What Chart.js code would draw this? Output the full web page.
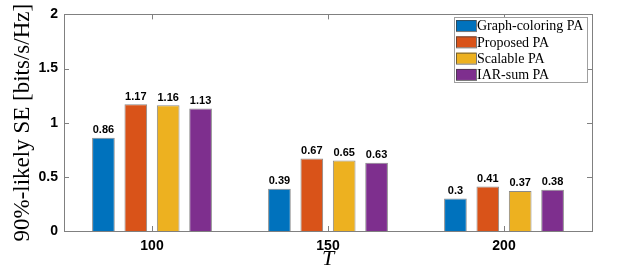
<!DOCTYPE html>
<html>
<head>
<meta charset="utf-8">
<script src="https://cdn.jsdelivr.net/npm/chart.js@4.4.1/dist/chart.umd.min.js"></script>
<style>
  html, body { margin: 0; padding: 0; background: #fff; }
  #wrap { width: 623px; height: 272px; position: relative; }
</style>
</head>
<body>
<div id="wrap"><canvas id="chart"></canvas></div>
<script>
// categories and series
const categories = ['100', '150', '200'];
const seriesNames = ['Graph-coloring PA', 'Proposed PA', 'Scalable PA', 'IAR-sum PA'];
const graphColoring = [0.86, 0.39, 0.30];
const proposed = [1.17, 0.67, 0.41];
const scalable = [1.16, 0.65, 0.37];
const iarSum = [1.13, 0.63, 0.38];
const yTicks = [0, 0.5, 1, 1.5, 2];

const colors = ['#0072BD', '#D95319', '#EDB120', '#7E2F8E'];
const seriesValues = [graphColoring, proposed, scalable, iarSum];

const tickFont = { family: 'Liberation Sans', weight: 'bold', size: 14 };
const serif = 'Liberation Serif';

// box around the axes with inward ticks (MATLAB style)
const framePlugin = {
    id: 'frame',
    afterDatasetsDraw(chart) {
        const ctx = chart.ctx;
        const a = chart.chartArea;
        const xs = chart.scales.x, ys = chart.scales.y;
        ctx.save();
        ctx.strokeStyle = '#808080';
        ctx.lineWidth = 1;
        ctx.strokeRect(Math.round(a.left) + 0.5, Math.round(a.top) + 0.5,
            Math.round(a.right - a.left), Math.round(a.bottom - a.top));
        ctx.beginPath();
        yTicks.forEach(v => {
            const y = Math.round(ys.getPixelForValue(v)) + 0.5;
            ctx.moveTo(a.left, y); ctx.lineTo(a.left + 5, y);
            ctx.moveTo(a.right, y); ctx.lineTo(a.right - 5, y);
        });
        categories.forEach((c, i) => {
            const x = Math.round(xs.getPixelForValue(i)) + 0.5;
            ctx.moveTo(x, a.bottom); ctx.lineTo(x, a.bottom - 5);
            ctx.moveTo(x, a.top); ctx.lineTo(x, a.top + 5);
        });
        ctx.stroke();
        ctx.restore();
    }
};

// value labels above each bar
const valueLabels = {
    id: 'valueLabels',
    afterDatasetsDraw(chart) {
        const ctx = chart.ctx;
        ctx.save();
        ctx.font = 'bold 11px "Liberation Sans"';
        ctx.fillStyle = '#000';
        ctx.textAlign = 'center';
        ctx.textBaseline = 'bottom';
        chart.data.datasets.forEach((ds, i) => {
            chart.getDatasetMeta(i).data.forEach((bar, j) => {
                ctx.fillText(String(ds.data[j]), bar.x, bar.y - 2);
            });
        });
        ctx.restore();
    }
};

// legend box in the upper right corner of the axes
const boxLegend = {
    id: 'boxLegend',
    afterDraw(chart) {
        const ctx = chart.ctx;
        const a = chart.chartArea;
        const w = 133, rowH = 16.3;
        const x0 = a.right - 5 - w, y0 = a.top + 3;
        const h = rowH * chart.data.datasets.length;
        ctx.save();
        ctx.fillStyle = '#fff';
        ctx.fillRect(x0, y0, w, h);
        ctx.strokeStyle = '#a0a0a0';
        ctx.lineWidth = 1;
        ctx.strokeRect(Math.round(x0) + 0.5, Math.round(y0) + 0.5, w, Math.round(h));
        ctx.font = '14px "' + serif + '"';
        ctx.textBaseline = 'middle';
        chart.data.datasets.forEach((ds, i) => {
            const cy = y0 + rowH * (i + 0.5);
            ctx.fillStyle = ds.backgroundColor;
            ctx.fillRect(x0 + 2, cy - 5.5, 20, 11);
            ctx.strokeStyle = 'rgba(60,60,60,0.7)';
            ctx.strokeRect(x0 + 2.5, cy - 5, 20, 11);
            ctx.fillStyle = '#000';
            ctx.fillText(ds.label, x0 + 23, cy + 1);
        });
        ctx.restore();
    }
};

const datasets = seriesNames.map((name, i) => ({
    label: name,
    data: seriesValues[i],
    backgroundColor: colors[i],
    borderColor: 'rgba(60,60,60,0.6)',
    borderWidth: 1,
    categoryPercentage: 0.736,
    barPercentage: 0.70
}));

new Chart(document.getElementById('chart'), {
    type: 'bar',
    data: { labels: categories, datasets: datasets },
    options: {
        responsive: true,
        maintainAspectRatio: false,
        animation: false,
        layout: { padding: { top: 6, right: 31, left: 0, bottom: 0 } },
        plugins: {
            legend: { display: false },
            tooltip: { enabled: false }
        },
        scales: {
            x: {
                grid: { display: false, drawTicks: false },
                border: { display: false },
                ticks: { font: tickFont, color: '#000', padding: 7 },
                title: {
                    display: true,
                    text: 'T',
                    color: '#000',
                    font: { family: serif, style: 'italic', size: 22 },
                    padding: { top: 0, bottom: 0 }
                },
                afterFit(scale) { scale.height = 41; }
            },
            y: {
                min: 0,
                max: 2,
                grid: { display: false, drawTicks: false },
                border: { display: false },
                ticks: {
                    stepSize: 0.5,
                    font: tickFont,
                    color: '#000',
                    padding: 6,
                    callback: v => String(v)
                },
                title: {
                    display: true,
                    text: '90%-likely SE [bits/s/Hz]',
                    color: '#000',
                    font: { family: serif, size: 23 },
                    padding: { top: 9, bottom: 0 }
                },
                afterFit(scale) { scale.width = 64; }
            }
        }
    },
    plugins: [framePlugin, valueLabels, boxLegend]
});
</script>
</body>
</html>
